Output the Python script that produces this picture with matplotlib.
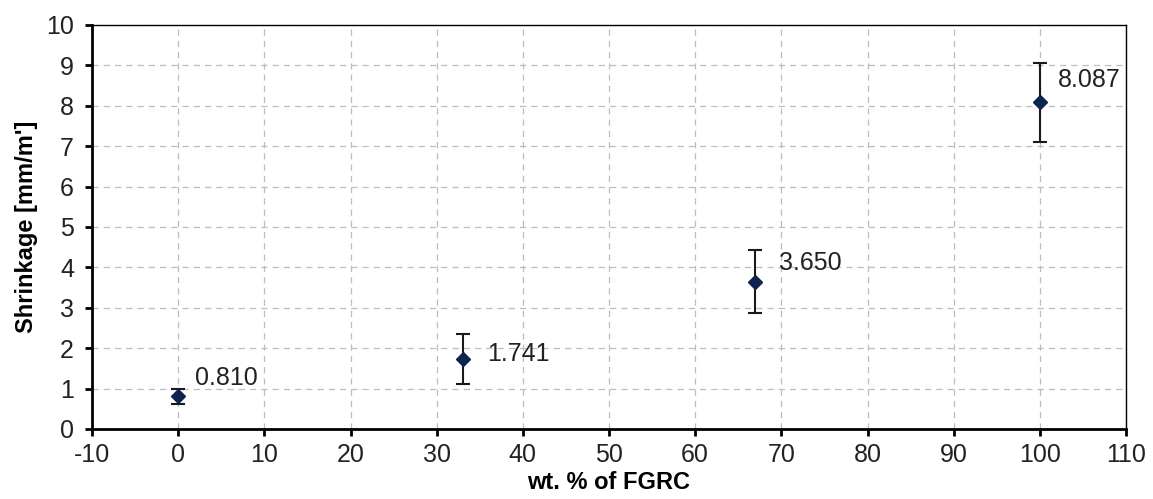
import matplotlib
matplotlib.use("Agg")
import matplotlib.pyplot as plt

# Data
fgrc_pct = [0, 33, 67, 100]
shrinkage = [0.810, 1.741, 3.650, 8.087]
shrinkage_err = [0.19, 0.62, 0.78, 0.98]
value_labels = ["0.810", "1.741", "3.650", "8.087"]
x_ticks = list(range(-10, 111, 10))
y_ticks = list(range(0, 11, 1))

# label offsets in pixels (style)
label_dx = [17, 25, 24, 18]
label_dy = [18, 5, 19, 22]

plt.rcParams['font.family'] = ['Liberation Sans', 'DejaVu Sans']
plt.rcParams['axes.unicode_minus'] = False

fig = plt.figure(figsize=(11.53, 4.99), dpi=100)
ax = fig.add_axes([92/1153, 70/499, (1126-92)/1153, (429-25)/499])

ax.errorbar(fgrc_pct, shrinkage, yerr=shrinkage_err, fmt='D', color='#0f2350',
            markersize=7, ecolor='#1a1a1a', elinewidth=1.5, capsize=5, capthick=1.5,
            zorder=3)

for x, y, t, dx, dy in zip(fgrc_pct, shrinkage, value_labels, label_dx, label_dy):
    ax.annotate(t, (x, y), xytext=(dx, dy), textcoords='offset pixels',
                ha='left', va='center', fontsize=18, color='#222222')

ax.set_xlim(-10, 110)
ax.set_ylim(0, 10)
ax.set_xticks(x_ticks)
ax.set_yticks(y_ticks)
ax.grid(True, linestyle=(0, (5, 4)), color='#bdbdbd', linewidth=0.9)
ax.set_axisbelow(True)

for s in ['left', 'bottom']:
    ax.spines[s].set_linewidth(2.0)
for s in ['top', 'right']:
    ax.spines[s].set_linewidth(1.0)
for s in ax.spines.values():
    s.set_color('black')

ax.tick_params(axis='both', direction='out', length=5, width=2, labelsize=18,
               labelcolor='#222222')
ax.tick_params(axis='y', pad=8)
ax.tick_params(axis='x', pad=5)

ax.set_xlabel('wt. % of FGRC', fontsize=17, fontweight='bold', labelpad=3)
ax.set_ylabel("Shrinkage [mm/m']", fontsize=17, fontweight='bold', labelpad=6)

fig.savefig('out.png', dpi=100, facecolor='white')
